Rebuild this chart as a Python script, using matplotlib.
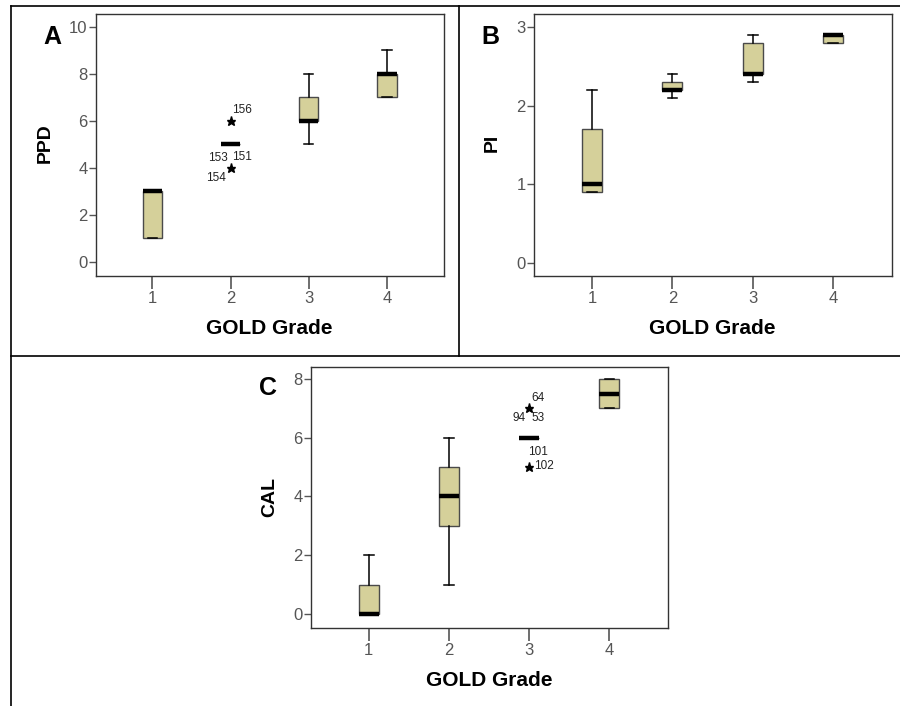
import matplotlib
matplotlib.use("Agg")
import matplotlib.pyplot as plt
from matplotlib.lines import Line2D

plt.rcParams['font.family'] = ['Liberation Sans', 'DejaVu Sans']

grades = [1, 2, 3, 4]
tick_labels = ["1", "2", "3", "4"]

# Panel A: PPD
ppd_q1 = [1, 5, 6, 7]
ppd_med = [3, 5, 6, 8]
ppd_q3 = [3, 5, 7, 8]
ppd_lo = [1, 5, 5, 7]
ppd_hi = [3, 5, 8, 9]
ppd_out = [[], [6, 4], [], []]
ppd_out_labels = [("156", 2, 6, 11, 11, 'center'), ("153", 2, 4, -13, 10, 'center'),
                  ("151", 2, 4, 11, 11, 'center'), ("154", 2, 4, -15, -10, 'center')]

# Panel B: PI
pi_q1 = [0.9, 2.2, 2.4, 2.8]
pi_med = [1.0, 2.2, 2.4, 2.9]
pi_q3 = [1.7, 2.3, 2.8, 2.9]
pi_lo = [0.9, 2.1, 2.3, 2.8]
pi_hi = [2.2, 2.4, 2.9, 2.9]
pi_out = [[], [], [], []]

# Panel C: CAL
cal_q1 = [0, 3, 6, 7]
cal_med = [0, 4, 6, 7.5]
cal_q3 = [1, 5, 6, 8]
cal_lo = [0, 1, 6, 7]
cal_hi = [2, 6, 6, 8]
cal_out = [[], [], [7, 5], []]
cal_out_labels = [("64", 3, 7, 9, 10, 'center'), ("94", 3, 7, -10, -10, 'center'),
                  ("53", 3, 7, 9, -10, 'center'), ("101", 3, 5, 9, 15, 'center'),
                  ("102", 3, 5, 5, 1, 'left')]

W, H = 900, 706
fig = plt.figure(figsize=(9, 7.06), dpi=100)

FILL = '#D5D09A'
EDGE = '#4a4a4a'
TICKC = '#555555'


def px_axes(l, r, t, b):
    return fig.add_axes([l / W, 1 - b / H, (r - l) / W, (b - t) / H])


def draw_panel(ax, q1, med, q3, lo, hi, outs, ylim, yticks, labels):
    stats = []
    for i in range(len(grades)):
        stats.append(dict(q1=q1[i], med=med[i], q3=q3[i], whislo=lo[i],
                          whishi=hi[i], fliers=outs[i], label=tick_labels[i]))
    ax.bxp(stats, positions=grades, widths=0.25, capwidths=0.12,
           patch_artist=True, showfliers=True,
           boxprops=dict(facecolor=FILL, edgecolor=EDGE, linewidth=1.0),
           medianprops=dict(color='black', linewidth=3.2, solid_capstyle='butt'),
           whiskerprops=dict(color='black', linewidth=1.1),
           capprops=dict(color='black', linewidth=1.1),
           flierprops=dict(marker='*', markersize=6.5, markerfacecolor='black',
                           markeredgecolor='black', linestyle='none'))
    ax.set_xlim(0.28, 4.73)
    ax.set_ylim(*ylim)
    ax.set_yticks(yticks)
    ax.set_yticklabels([str(v) for v in yticks])
    ax.set_xticks(grades)
    ax.set_xticklabels(tick_labels)
    ax.tick_params(axis='y', direction='out', length=5, width=1, color=TICKC,
                   labelcolor=TICKC, labelsize=12, pad=1)
    ax.tick_params(axis='x', direction='out', length=9, width=1.2, color=TICKC,
                   labelcolor=TICKC, labelsize=12, pad=2)
    for s in ax.spines.values():
        s.set_color('#333333')
        s.set_linewidth(1.0)
    for txt, x, y, dx, dy, ha in labels:
        ax.annotate(txt, (x, y), xytext=(dx, dy), textcoords='offset pixels',
                    ha=ha, va='center', fontsize=8.5, color='#222222')


axA = px_axes(96, 444, 14, 276)
draw_panel(axA, ppd_q1, ppd_med, ppd_q3, ppd_lo, ppd_hi, ppd_out,
           (-0.6, 10.55), [0, 2, 4, 6, 8, 10], ppd_out_labels)

axB = px_axes(534, 892, 14, 276)
draw_panel(axB, pi_q1, pi_med, pi_q3, pi_lo, pi_hi, pi_out,
           (-0.165, 3.165), [0, 1, 2, 3], [])

axC = px_axes(311, 668, 367, 628)
draw_panel(axC, cal_q1, cal_med, cal_q3, cal_lo, cal_hi, cal_out,
           (-0.48, 8.41), [0, 2, 4, 6, 8], cal_out_labels)


def ftext(x, y, s, **kw):
    fig.text(x / W, 1 - y / H, s, ha='center', va='center', **kw)


bold = dict(fontweight='bold', color='black')
ftext(52, 37, "A", fontsize=18, **bold)
ftext(490, 37, "B", fontsize=18, **bold)
ftext(268, 388, "C", fontsize=18, **bold)
ftext(45, 143, "PPD", fontsize=14, rotation=90, **bold)
ftext(492, 143, "PI", fontsize=14, rotation=90, **bold)
ftext(270, 497, "CAL", fontsize=14, rotation=90, **bold)
ftext(269, 328, "GOLD Grade", fontsize=15, **bold)
ftext(712, 328, "GOLD Grade", fontsize=15, **bold)
ftext(489, 680, "GOLD Grade", fontsize=15, **bold)


def fline(x0, y0, x1, y1):
    fig.add_artist(Line2D([x0 / W, x1 / W], [1 - y0 / H, 1 - y1 / H],
                          transform=fig.transFigure, color='black', linewidth=1.2))


fline(11, 6, 900, 6)
fline(11, 6, 11, 706)
fline(11, 356, 900, 356)
fline(459, 6, 459, 356)

fig.savefig("out.png", dpi=100)
